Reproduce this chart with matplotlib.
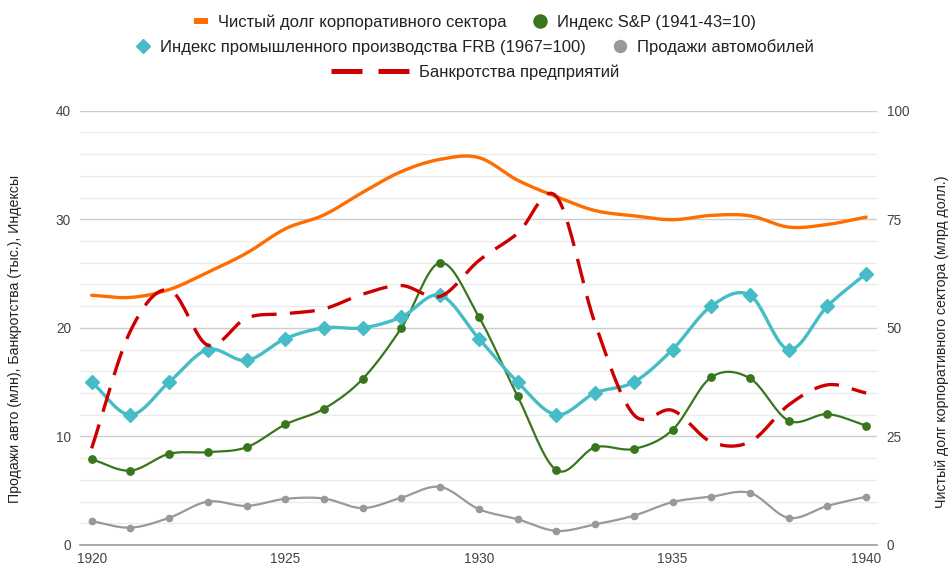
import numpy as np
import matplotlib.pyplot as plt
from matplotlib.lines import Line2D
from matplotlib.ticker import MultipleLocator

plt.rcParams['font.family'] = ['Liberation Sans', 'DejaVu Sans']

# ------------------------------------------------------------
# DATOS
# ------------------------------------------------------------
anios = list(range(1920, 1941))

# eje derecho, mlrd долл.
deuda_corp = [57.5, 57.0, 58.8, 62.8, 67.2, 72.8, 76.0, 81.2, 86.0, 88.8, 89.2,
              84.0, 80.2, 77.0, 75.8, 74.9, 75.9, 75.8, 73.2, 73.8, 75.5]
# eje izquierdo
sp_index = [7.9, 6.85, 8.4, 8.55, 9.0, 11.1, 12.55, 15.3, 20.0, 26.0, 21.0,
            13.7, 6.9, 9.0, 8.85, 10.6, 15.45, 15.35, 11.45, 12.05, 11.0]
frb_index = [15, 12, 15, 18, 17, 19, 20, 20, 21, 23, 19,
             15, 12, 14, 15, 18, 22, 23, 18, 22, 25]
ventas_auto = [2.2, 1.6, 2.5, 4.0, 3.6, 4.25, 4.28, 3.4, 4.36, 5.35, 3.3,
               2.37, 1.3, 1.9, 2.7, 3.95, 4.45, 4.8, 2.5, 3.6, 4.45]
quiebras = [8.9, 19.7, 23.5, 18.4, 20.9, 21.3, 21.75, 23.1, 23.9, 22.9, 26.2,
            28.7, 32.1, 20.4, 12.0, 12.4, 9.5, 9.5, 12.9, 14.75, 14.0]

nombres = ["Чистый долг корпоративного сектора", "Индекс S&P (1941-43=10)",
           "Индекс промышленного производства FRB (1967=100)", "Продажи автомобилей",
           "Банкротства предприятий"]

c_naranja = '#ff6d00'
c_verde = '#38761d'
c_cian = '#46bdc6'
c_gris = '#999999'
c_rojo = '#cc0000'


def suavizar(x, y, n=20):
    # curva tipo Catmull-Rom entre los puntos (solo para dibujar)
    x = np.asarray(x, float)
    y = np.asarray(y, float)
    m = np.zeros_like(y)
    m[1:-1] = (y[2:] - y[:-2]) / (x[2:] - x[:-2])
    m[0] = (y[1] - y[0]) / (x[1] - x[0])
    m[-1] = (y[-1] - y[-2]) / (x[-1] - x[-2])
    xs, ys = [], []
    for i in range(len(x) - 1):
        h = x[i + 1] - x[i]
        t = np.linspace(0, 1, n, endpoint=False)
        h00 = 2 * t**3 - 3 * t**2 + 1
        h10 = t**3 - 2 * t**2 + t
        h01 = -2 * t**3 + 3 * t**2
        h11 = t**3 - t**2
        xs.extend(x[i] + t * h)
        ys.extend(h00 * y[i] + h10 * h * m[i] + h01 * y[i + 1] + h11 * h * m[i + 1])
    xs.append(x[-1])
    ys.append(y[-1])
    return np.array(xs), np.array(ys)


fig = plt.figure(figsize=(9.5, 5.67), dpi=100)
ax = fig.add_axes([80 / 950, 1 - 545 / 567, 797 / 950, 434.3 / 567])
ax2 = ax.twinx()
ax.set_zorder(2)
ax2.set_zorder(1)
ax.patch.set_visible(False)

# rejilla en el eje derecho (queda debajo de todo)
ax.set_xlim(1919.7, 1940.28)
ax.set_ylim(0, 40)
ax2.set_ylim(0, 100)
ax.xaxis.set_major_locator(MultipleLocator(5))
ax.xaxis.set_minor_locator(MultipleLocator(1))
ax.yaxis.set_major_locator(MultipleLocator(10))
ax2.yaxis.set_major_locator(MultipleLocator(25))
ax2.yaxis.set_minor_locator(MultipleLocator(5))
ax2.grid(True, which='major', color='#cccccc', lw=1.0)
ax2.grid(True, which='minor', color='#ebebeb', lw=1.0)
ax2.xaxis.grid(True, which='major', color='#cccccc', lw=1.0)
ax2.xaxis.grid(True, which='minor', color='#ebebeb', lw=1.0)

for s in ax.spines.values():
    s.set_visible(False)
for s in ax2.spines.values():
    s.set_visible(False)
ax2.spines['bottom'].set_visible(True)
ax2.spines['bottom'].set_color('#9a9a9a')
ax2.spines['bottom'].set_linewidth(1.2)

# series
xs, ys = suavizar(anios, deuda_corp)
ax2.plot(xs, ys, color=c_naranja, lw=2.4, solid_capstyle='round')

xs, ys = suavizar(anios, sp_index)
ax.plot(xs, ys, color=c_verde, lw=1.6, zorder=3)
ax.plot(anios, sp_index, 'o', color=c_verde, ms=5.3, zorder=3)

xs, ys = suavizar(anios, frb_index)
ax.plot(xs, ys, color=c_cian, lw=2.4, zorder=4)
ax.plot(anios, frb_index, 'D', color=c_cian, ms=6.8, zorder=4)

xs, ys = suavizar(anios, ventas_auto)
ax.plot(xs, ys, color=c_gris, lw=1.6, zorder=5)
ax.plot(anios, ventas_auto, 'o', color=c_gris, ms=4.5, zorder=5)

xs, ys = suavizar(anios, quiebras)
ax.plot(xs, ys, color=c_rojo, lw=2.4, dashes=(7.5, 4), zorder=6)

# ejes y etiquetas
ax.tick_params(axis='both', which='both', length=0, labelsize=9.8, labelcolor='#444444')
ax2.tick_params(axis='both', which='both', length=0, labelsize=9.8, labelcolor='#444444')
ax.tick_params(axis='x', pad=5)
ax.tick_params(axis='y', pad=6.5)
ax2.tick_params(axis='y', pad=7)
ax.set_ylabel("Продажи авто (млн), Банкротства (тыс.), Индексы",
              fontsize=10.2, color='#222222')
ax2.set_ylabel("Чистый долг корпоративного сектора (млрд долл.)",
               fontsize=10.2, color='#222222')
ax.yaxis.set_label_coords(-0.0728, 0.474)
ax2.yaxis.set_label_coords(1.0728, 0.467)

# leyenda en tres filas
h_nar = Line2D([], [], color=c_naranja, lw=4.3, solid_capstyle='butt')
h_ver = Line2D([], [], color=c_verde, marker='o', ls='none', ms=9.4)
h_cia = Line2D([], [], color=c_cian, marker='D', ls='none', ms=7)
h_gri = Line2D([], [], color=c_gris, marker='o', ls='none', ms=8.6)
h_roj = Line2D([], [], color=c_rojo, lw=3.6, dashes=(6.2, 3.2))

ley_kw = dict(loc='center', frameon=False, fontsize=12, handletextpad=0.6,
              columnspacing=1.6, labelcolor='#222222')
l1 = fig.legend([h_nar, h_ver], nombres[0:2], ncol=2, handlelength=0.84,
                bbox_to_anchor=(0.5, 1 - 22 / 567), **ley_kw)
l2 = fig.legend([h_cia, h_gri], nombres[2:4], ncol=2, handlelength=0.84,
                bbox_to_anchor=(0.5, 1 - 47 / 567), **ley_kw)
l3 = fig.legend([h_roj], nombres[4:5], ncol=1, handlelength=4.7,
                bbox_to_anchor=(0.5, 1 - 72 / 567), **ley_kw)

plt.savefig('out.png', dpi=100)
